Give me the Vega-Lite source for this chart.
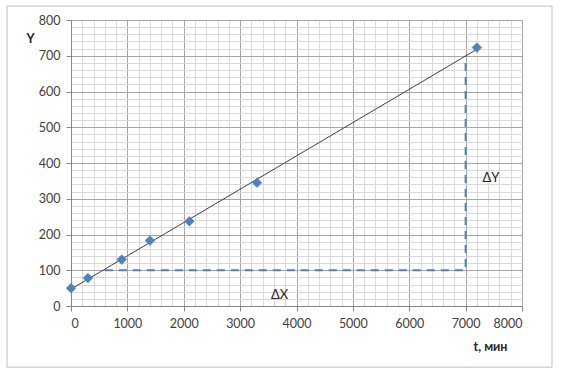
{
  "$schema": "https://vega.github.io/schema/vega-lite/v6.json",
  "width": 451,
  "height": 286,
  "autosize": {"type": "none"},
  "padding": {"left": 71, "top": 20, "right": 44, "bottom": 67},
  "background": "white",
  "config": {
    "font": "Lato",
    "view": {"stroke": null},
    "axis": {"labelFont": "Lato", "labelFontSize": 12.5, "labelColor": "#404040", "titleFont": "Lato"}
  },
  "datasets": {
    "pts": [
      {"t": 0, "Y": 50},
      {"t": 300, "Y": 78},
      {"t": 900, "Y": 130},
      {"t": 1400, "Y": 183},
      {"t": 2100, "Y": 237},
      {"t": 3300, "Y": 345},
      {"t": 7200, "Y": 723}
    ],
    "guide": [
      {"t": 600, "Y": 100, "k": 1},
      {"t": 7000, "Y": 100, "k": 2},
      {"t": 7000, "Y": 700, "k": 3}
    ],
    "labels": [
      {"t": 3700, "Y": 30, "txt": "ΔX"},
      {"t": 7450, "Y": 358, "txt": "ΔY"}
    ]
  },
  "layer": [
    {
      "data": {"name": "pts"},
      "mark": {"type": "point", "filled": true, "opacity": 0},
      "encoding": {
        "x": {
          "field": "t", "type": "quantitative",
          "scale": {"domain": [0, 8000], "nice": false},
          "axis": {
            "tickCount": 40,
            "format": "d",
            "title": "t, мин",
            "titleFontWeight": "bold", "titleFontSize": 12.5, "titleColor": "#262626",
            "titleX": 419, "titleY": 40, "titleAlign": "center", "titleBaseline": "middle",
            "labelExpr": "datum.value % 1000 === 0 ? datum.label : ''",
            "labelPadding": 6,
            "grid": true,
            "gridColor": {"condition": {"test": "datum.value % 1000 === 0", "value": "#a6a6a6"}, "value": "#d9d9d9"},
            "gridWidth": 1,
            "tickColor": "#868686",
            "tickSize": 5,
            "tickOpacity": {"condition": {"test": "datum.value % 1000 === 0", "value": 1}, "value": 0},
            "domainColor": "#868686"
          }
        },
        "y": {
          "field": "Y", "type": "quantitative",
          "scale": {"domain": [0, 800], "nice": false},
          "axis": {
            "tickCount": 40,
            "format": "d",
            "title": "Y",
            "titleFontWeight": "bold", "titleFontSize": 12.5, "titleColor": "#262626",
            "titleAngle": 0, "titleX": -41, "titleY": 18, "titleAlign": "center", "titleBaseline": "middle",
            "labelExpr": "datum.value % 100 === 0 ? datum.label : ''",
            "labelPadding": 6,
            "grid": true,
            "gridColor": {"condition": {"test": "datum.value % 100 === 0", "value": "#a6a6a6"}, "value": "#d9d9d9"},
            "gridWidth": 1,
            "tickColor": "#868686",
            "tickSize": 5,
            "tickOpacity": {"condition": {"test": "datum.value % 100 === 0", "value": 1}, "value": 0},
            "domainColor": "#868686"
          }
        }
      }
    },
    {
      "data": {"values": [{}]},
      "mark": {"type": "rect", "fill": "white", "fillOpacity": 0, "stroke": "#bfbfbf", "strokeWidth": 1, "clip": false},
      "encoding": {
        "x": {"datum": -1135, "type": "quantitative"},
        "x2": {"datum": 8532},
        "y": {"datum": 839, "type": "quantitative"},
        "y2": {"datum": -171}
      }
    },
    {
      "data": {"name": "guide"},
      "mark": {"type": "line", "color": "#4f81bd", "strokeWidth": 2, "strokeDash": [8, 6]},
      "encoding": {
        "x": {"field": "t", "type": "quantitative"},
        "y": {"field": "Y", "type": "quantitative"},
        "order": {"field": "k"}
      }
    },
    {
      "data": {"name": "pts"},
      "transform": [{"regression": "Y", "on": "t"}],
      "mark": {"type": "line", "color": "#404040", "strokeWidth": 1},
      "encoding": {
        "x": {"field": "t", "type": "quantitative"},
        "y": {"field": "Y", "type": "quantitative"}
      }
    },
    {
      "data": {"name": "pts"},
      "mark": {"type": "point", "shape": "diamond", "filled": true, "color": "#4f81bd", "size": 95, "opacity": 1, "stroke": "#4a7ebb", "strokeWidth": 0.5},
      "encoding": {
        "x": {"field": "t", "type": "quantitative"},
        "y": {"field": "Y", "type": "quantitative"}
      }
    },
    {
      "data": {"name": "labels"},
      "mark": {"type": "text", "font": "Lato", "fontSize": 13, "color": "#262626"},
      "encoding": {
        "x": {"field": "t", "type": "quantitative"},
        "y": {"field": "Y", "type": "quantitative"},
        "text": {"field": "txt"}
      }
    }
  ]
}
